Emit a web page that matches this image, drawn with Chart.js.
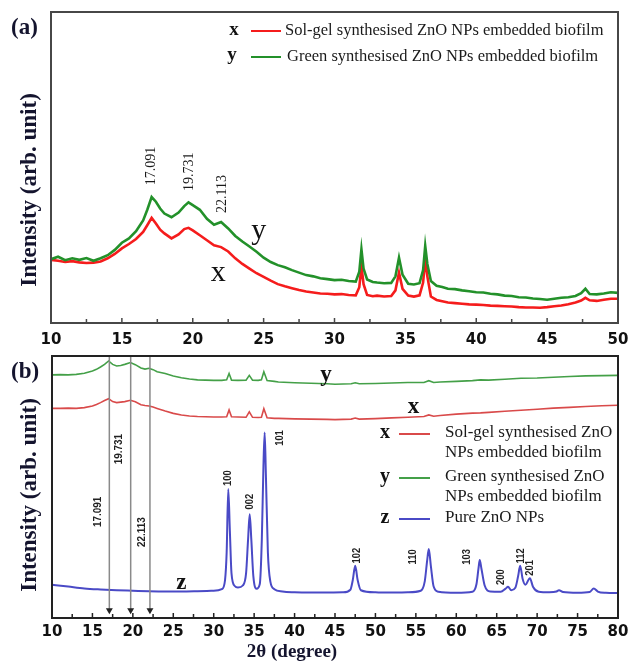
<!DOCTYPE html>
<html>
<head>
<meta charset="utf-8">
<script src="https://cdn.jsdelivr.net/npm/chart.js@4.4.1/dist/chart.umd.min.js"></script>
<style>
  html, body { margin: 0; padding: 0; background: #fff; }
  #wrap { position: relative; width: 639px; height: 666px; overflow: hidden; }
  canvas { position: absolute; left: 0; }
  #chartA { top: 0; }
  #chartB { top: 340px; }
</style>
</head>
<body>
<div id="wrap">
  <canvas id="chartA" width="639" height="350"></canvas>
  <canvas id="chartB" width="639" height="326"></canvas>
</div>
<script>
const serif = '"Liberation Serif", "Times New Roman", serif';
const sans = '"DejaVu Sans", Verdana, sans-serif';
const arial = '"Liberation Sans", Arial, sans-serif';

// ---- panel (a): biofilms, 10-50 deg ----
const ticksA = [10, 15, 20, 25, 30, 35, 40, 45, 50];
const xA = [10, 10.5, 11, 11.5, 12, 12.5, 13, 13.5, 14, 14.5,
  15, 15.5, 16, 16.5, 16.8, 17.1, 17.4, 17.7, 18, 18.5,
  19, 19.4, 19.7, 20, 20.5, 21, 21.5, 22, 22.5, 23,
  23.5, 24, 24.5, 25, 25.5, 26, 26.5, 27, 27.5, 28,
  28.5, 29, 29.5, 30, 30.5, 31, 31.5, 31.75, 31.9, 32.05,
  32.3, 32.7, 33, 33.5, 34, 34.3, 34.55, 34.8, 35.2, 35.6,
  36, 36.25, 36.4, 36.55, 36.8, 37.2, 37.6, 38, 38.5, 39,
  39.5, 40, 40.5, 41, 41.5, 42, 42.5, 43, 43.5, 44,
  44.5, 45, 45.5, 46, 46.5, 47, 47.4, 47.7, 48, 48.5,
  49, 49.5, 50];
const greenA = [20.5, 21.3, 20.2, 20.8, 20.3, 20.9, 20.0, 20.8, 21.8, 23.5,
  25.8, 27.2, 29.5, 33.0, 36.5, 40.5, 39.0, 36.8, 35.2, 34.0,
  35.5, 37.6, 38.8, 37.9, 36.4, 33.5, 31.6, 32.5, 30.4, 28.0,
  26.2, 24.6, 22.9, 21.0, 19.6, 18.6, 17.9, 17.0, 16.2, 15.4,
  15.0, 14.4, 14.1, 13.8, 13.9, 13.5, 13.3, 16.5, 23.7, 17.5,
  14.0, 13.2, 13.0, 12.8, 12.9, 15.0, 21.0, 15.5, 12.6, 12.4,
  12.8, 17.0, 24.8, 19.0, 13.5, 12.0, 11.6, 11.0, 10.9, 10.5,
  10.2, 9.9, 9.8, 9.4, 9.2, 8.8, 8.7, 8.3, 8.2, 7.9,
  7.7, 7.5, 7.8, 8.1, 8.3, 8.7, 9.6, 11.0, 9.3, 9.2,
  9.5, 9.9, 9.7];
const redA = [20.3, 20.0, 19.6, 19.9, 19.5, 19.3, 19.4, 19.8, 20.8, 22.2,
  24.0, 25.4, 27.0, 29.3, 31.5, 33.8, 32.0, 30.0, 28.8, 27.2,
  28.5, 30.2, 30.6, 29.8, 28.2, 26.6, 25.0, 24.4, 23.0, 20.8,
  19.0, 17.5, 16.0, 14.8, 13.6, 12.5, 11.8, 11.2, 10.6, 10.1,
  9.8, 9.5, 9.4, 9.2, 9.3, 9.0, 8.9, 11.5, 18.3, 12.5,
  9.0, 8.6, 8.8, 8.5, 8.7, 10.5, 16.2, 11.0, 8.8, 8.5,
  8.9, 13.0, 20.5, 15.0, 8.5, 7.4, 7.0, 6.6, 6.4, 6.2,
  6.0, 5.9, 5.8, 5.6, 5.5, 5.4, 5.3, 5.1, 5.0, 5.0,
  4.9, 5.1, 5.4, 5.6, 6.0, 6.6, 7.2, 8.1, 7.3, 7.1,
  7.5, 7.8, 7.8];
const peakTextA = ['17.091', '19.731', '22.113'];
const peakXA = [17.091, 19.731, 22.113];
const peakYA = [50.5, 48.6, 41.5];
const namesA = ['Sol-gel synthesised ZnO NPs embedded biofilm', 'Green synthesised ZnO NPs embedded biofilm'];

// ---- panel (b): biofilms + pure ZnO, 10-80 deg ----
const ticksB = [10, 15, 20, 25, 30, 35, 40, 45, 50, 55, 60, 65, 70, 75, 80];
const xB = [10, 11, 12, 13, 14, 15, 15.5, 16, 16.5, 17,
  17.5, 18, 18.5, 19, 19.7, 20.3, 21, 21.5, 22, 22.5,
  23, 24, 25, 26, 27, 28, 29, 30, 31, 31.6,
  31.9, 32.2, 33, 34, 34.4, 34.8, 35.5, 35.9, 36.2, 36.6,
  37.5, 38, 40, 42, 44, 45, 46, 47, 47.5, 48,
  50, 52, 54, 56, 56.6, 57.2, 58, 60, 62, 63,
  64, 66, 68, 70, 72, 74, 76, 78, 80];
const greenB = [92.8, 92.9, 92.8, 93.0, 93.4, 94.3, 94.9, 95.8, 96.8, 98.1,
  96.8, 96.2, 96.4, 96.8, 97.5, 96.7, 95.4, 95.0, 95.3, 94.8,
  94.0, 93.3, 92.4, 91.7, 91.2, 90.9, 90.8, 90.7, 90.7, 90.9,
  93.3, 90.8, 90.7, 90.8, 92.6, 90.8, 90.7, 90.9, 94.0, 90.6,
  90.3, 90.1, 89.8, 89.6, 89.4, 89.2, 89.3, 89.4, 89.8, 89.4,
  89.5, 89.7, 89.9, 89.9, 90.6, 89.9, 90.1, 90.3, 90.6, 90.9,
  90.8, 91.1, 91.5, 91.6, 91.9, 92.2, 92.4, 92.5, 92.6];
const redB = [80.0, 80.0, 80.1, 80.0, 80.3, 80.9, 81.5, 82.2, 83.0, 83.7,
  82.6, 82.2, 82.4, 82.6, 83.1, 82.5, 81.4, 81.1, 80.9, 80.5,
  80.0, 79.0, 78.1, 77.5, 77.1, 76.9, 76.8, 76.7, 76.7, 76.8,
  79.4, 76.8, 76.7, 76.6, 78.7, 76.6, 76.5, 76.6, 79.9, 76.4,
  76.2, 76.2, 76.0, 75.9, 75.8, 75.7, 75.8, 75.9, 76.3, 75.9,
  76.1, 76.4, 76.6, 76.9, 77.5, 77.0, 77.3, 77.8, 78.2, 78.3,
  78.5, 78.9, 79.3, 79.7, 80.1, 80.4, 80.7, 81.0, 81.2];
const xZ = [10, 12, 14, 16, 18, 20, 22, 24, 26, 28,
  30, 31, 31.4, 31.6, 31.8, 32.0, 32.2, 32.6, 33.0, 33.6,
  34.0, 34.25, 34.45, 34.65, 34.9, 35.3, 35.7, 35.95, 36.15, 36.3,
  36.45, 36.7, 37.0, 37.5, 38.5, 40, 42, 44, 46, 46.9,
  47.2, 47.5, 47.8, 48.2, 50, 52, 54, 55.6, 56.1, 56.4,
  56.6, 56.85, 57.2, 57.8, 60, 62, 62.5, 62.75, 62.9, 63.1,
  63.5, 64.2, 65.5, 66.1, 66.4, 66.8, 67.3, 67.65, 67.9, 68.2,
  68.55, 69.1, 69.5, 70.2, 71.5, 72.4, 72.7, 73.2, 75, 76.5,
  77, 77.5, 78.5, 80];
const zB = [12.7, 12.0, 11.3, 10.9, 10.6, 10.4, 10.2, 10.1, 10.1, 10.2,
  10.4, 11.0, 14.5, 25, 49.2, 33, 17, 12.2, 11.6, 12.4,
  17, 30, 39.6, 30, 16, 11.2, 13, 30, 58, 70.8,
  55, 25, 14, 11, 10.1, 9.8, 9.7, 9.7, 9.8, 10.8,
  14.5, 19.9, 14.5, 10.6, 9.8, 9.7, 9.8, 10.4, 14, 22,
  26.3, 20, 12, 10.0, 9.6, 10.0, 13, 19, 22.1, 19,
  12.5, 10.1, 10.0, 11.2, 11.9, 10.6, 11.5, 16, 19.9, 15,
  12.7, 15.2, 11.8, 10.0, 9.8, 10.1, 10.6, 9.9, 9.6, 9.9,
  11.3, 10.1, 9.6, 9.5];
const guideX = [17.091, 19.731, 22.113];
const guideText = ['17.091', '19.731', '22.113'];
const guideTextX = [15.7, 18.3, 21.1];
const guideTextY = [40.5, 64.5, 32.8];
const hklText = ['100', '002', '101', '102', '110', '103', '200', '112', '201'];
const hklX = [31.8, 34.45, 38.2, 47.7, 54.6, 61.3, 65.5, 68.0, 69.1];
const hklY = [53.4, 44.4, 68.7, 23.8, 23.3, 23.3, 15.6, 23.7, 19.1];
const namesB = [['Sol-gel synthesised ZnO', 'NPs embedded biofilm'], ['Green synthesised ZnO', 'NPs embedded biofilm'], ['Pure ZnO NPs']];

function pts(xs, ys) { return xs.map((x, i) => ({ x: x, y: ys[i] })); }

function label(ctx, txt, x, y, font, color, align) {
  ctx.save();
  ctx.font = font;
  ctx.fillStyle = color;
  ctx.textAlign = align || 'center';
  ctx.textBaseline = 'middle';
  ctx.fillText(txt, x, y);
  ctx.restore();
}

function vlabel(ctx, txt, x, y, font, color, squeeze) {
  ctx.save();
  ctx.translate(x, y);
  ctx.rotate(-Math.PI / 2);
  if (squeeze) ctx.scale(squeeze, 1);
  ctx.font = font;
  ctx.fillStyle = color;
  ctx.textAlign = 'center';
  ctx.textBaseline = 'middle';
  ctx.fillText(txt, 0, 0);
  ctx.restore();
}

// box round the plot and short inward ticks on the bottom axis
function frameAndTicks(chart, ticks, color) {
  const { ctx, chartArea: a, scales: { x } } = chart;
  ctx.save();
  ctx.strokeStyle = color;
  ctx.lineWidth = 1.5;
  ticks.forEach((v, i) => {
    const marks = [v];
    if (i < ticks.length - 1) marks.push((v + ticks[i + 1]) / 2);
    marks.forEach((m, j) => {
      const px = x.getPixelForValue(m);
      ctx.beginPath();
      ctx.moveTo(px, a.bottom);
      ctx.lineTo(px, a.bottom - (j ? 4 : 5));
      ctx.stroke();
    });
  });
  ctx.lineWidth = 2;
  ctx.strokeRect(a.left, a.top, a.right - a.left, a.bottom - a.top);
  ctx.restore();
}

function legendLine(ctx, x0, x1, y, color, w) {
  ctx.save();
  ctx.strokeStyle = color;
  ctx.lineWidth = w;
  ctx.beginPath();
  ctx.moveTo(x0, y);
  ctx.lineTo(x1, y);
  ctx.stroke();
  ctx.restore();
}

function baseOptions(xMin, xMax, ticks, pad, axisH, tickPad) {
  return {
    responsive: false,
    animation: false,
    layout: { padding: pad },
    plugins: { legend: { display: false }, tooltip: { enabled: false } },
    elements: { point: { radius: 0 }, line: { tension: 0 } },
    scales: {
      x: {
        type: 'linear', min: xMin, max: xMax,
        afterBuildTicks: s => { s.ticks = ticks.map(v => ({ value: v })); },
        afterFit: s => { s.height = axisH; },
        grid: { display: false, drawTicks: false },
        border: { display: false },
        ticks: { font: { family: sans, size: 15, weight: 'bold' }, color: '#111', padding: tickPad, autoSkip: false, maxRotation: 0 }
      },
      y: { display: false, min: 0, max: 100 }
    }
  };
}

const greenColA = '#23912a', redColA = '#f51c1c';
const greenColB = '#44a048', redColB = '#d94a4a', blueColB = '#4a4ac6';

const decorA = {
  id: 'decorA',
  afterDraw(chart) {
    const { ctx, scales: { x, y } } = chart;
    frameAndTicks(chart, ticksA, '#474747');
    label(ctx, '(a)', 11, 28, 'bold 23px ' + serif, '#14142e', 'left');
    vlabel(ctx, 'Intensity (arb. unit)', 30, 190, 'bold 23px ' + serif, '#14142e');
    peakTextA.forEach((t, i) => {
      vlabel(ctx, t, x.getPixelForValue(peakXA[i]), y.getPixelForValue(peakYA[i]), '14px ' + serif, '#1a1a1a');
    });
    label(ctx, 'y', x.getPixelForValue(24.65), y.getPixelForValue(29.6), '30px ' + serif, '#111');
    label(ctx, 'x', x.getPixelForValue(21.8), y.getPixelForValue(16.1), '30px ' + serif, '#111');
    // legend
    label(ctx, 'x', 234, 30, 'bold 19px ' + serif, '#111');
    legendLine(ctx, 251, 281, 31, redColA, 2);
    label(ctx, namesA[0], 285, 31, '16.5px ' + serif, '#1a1a1a', 'left');
    label(ctx, 'y', 232, 55, 'bold 19px ' + serif, '#111');
    legendLine(ctx, 251, 281, 57, greenColA, 2);
    label(ctx, namesA[1], 287, 57, '16.5px ' + serif, '#1a1a1a', 'left');
  }
};

const decorB = {
  id: 'decorB',
  afterDraw(chart) {
    const { ctx, scales: { x, y } } = chart;
    frameAndTicks(chart, ticksB, '#222');
    label(ctx, '(b)', 11, 32, 'bold 23px ' + serif, '#14142e', 'left');
    vlabel(ctx, 'Intensity (arb. unit)', 30, 155, 'bold 23px ' + serif, '#14142e');
    label(ctx, '2\u03b8 (degree)', 292, 312, 'bold 19px ' + serif, '#14142e');
    guideText.forEach((t, i) => {
      vlabel(ctx, t, x.getPixelForValue(guideTextX[i]), y.getPixelForValue(guideTextY[i]), 'bold 11px ' + arial, '#222', 0.9);
    });
    hklText.forEach((t, i) => {
      vlabel(ctx, t, x.getPixelForValue(hklX[i]), y.getPixelForValue(hklY[i]), 'bold 11px ' + arial, '#222', 0.85);
    });
    label(ctx, 'y', x.getPixelForValue(43.9), y.getPixelForValue(92.7), 'bold 23px ' + serif, '#111');
    label(ctx, 'x', x.getPixelForValue(54.7), y.getPixelForValue(80.5), 'bold 23px ' + serif, '#111');
    label(ctx, 'z', x.getPixelForValue(26.0), y.getPixelForValue(13.4), 'bold 23px ' + serif, '#111');
    // legend
    const rows = [93, 137, 178];
    const cols = [redColB, greenColB, blueColB];
    ['x', 'y', 'z'].forEach((tag, i) => {
      label(ctx, tag, 385, rows[i], 'bold 20px ' + serif, '#111');
      legendLine(ctx, 399, 430, rows[i] + 1, cols[i], 2);
      namesB[i].forEach((line, k) => {
        label(ctx, line, 445, rows[i] + k * 20, '17px ' + serif, '#1a1a1a', 'left');
      });
    });
  }
};

new Chart(document.getElementById('chartA'), {
  type: 'line',
  data: {
    datasets: [
      { data: pts(xA, greenA), borderColor: greenColA, borderWidth: 2.6 },
      { data: pts(xA, redA), borderColor: redColA, borderWidth: 2.6 }
    ]
  },
  options: baseOptions(10, 50, ticksA, { left: 51, right: 21, top: 12, bottom: 0 }, 27, 8),
  plugins: [decorA]
});

const guideSets = guideX.map(g => ({
  data: [{ x: g, y: 100 }, { x: g, y: 3 }],
  borderColor: '#8a8a8a',
  borderWidth: 1.5,
  pointRadius: [0, 4],
  pointStyle: 'triangle',
  rotation: 180,
  pointBackgroundColor: '#222',
  pointBorderColor: '#222',
  pointBorderWidth: 0
}));

new Chart(document.getElementById('chartB'), {
  type: 'line',
  data: {
    datasets: guideSets.concat([
      { data: pts(xB, greenB), borderColor: greenColB, borderWidth: 1.6 },
      { data: pts(xB, redB), borderColor: redColB, borderWidth: 1.6 },
      { data: pts(xZ, zB), borderColor: blueColB, borderWidth: 2, cubicInterpolationMode: 'monotone' }
    ])
  },
  options: baseOptions(10, 80, ticksB, { left: 52, right: 21, top: 16, bottom: 0 }, 48, 5),
  plugins: [decorB]
});
</script>
</body>
</html>
